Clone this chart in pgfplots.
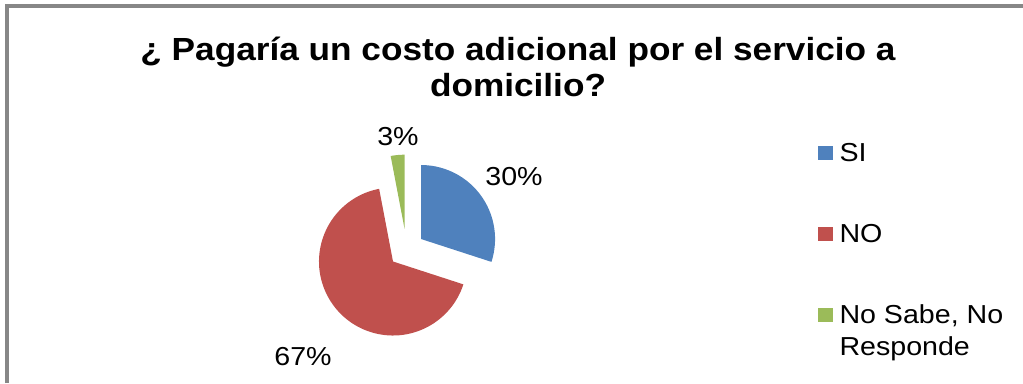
\documentclass[border=0pt]{standalone}
\usepackage{pgfplots}
\usepackage{pgfplotstable}
\pgfplotsset{compat=1.18}
\usepackage{fontspec}
\setmainfont{Liberation Sans}[FakeStretch=1.1]
\definecolor{sliceblue}{HTML}{4F81BD}
\definecolor{slicered}{HTML}{C0504D}
\definecolor{slicegreen}{HTML}{9BBB59}
\definecolor{framegray}{HTML}{878787}

% value = percent, explode = offset (px), lx ly = label position (px, image coords)
\pgfplotstableread{
name value explode color lx ly
SI 30 18 sliceblue 514 177
NO 67 18 slicered 303 357
NSNR 3 21 slicegreen 398 137
}\piedata

\pgfplotsset{
  legsquare/.style={legend image code/.code={\fill[##1, draw=none] (0pt,-7.15pt) rectangle (14.3pt,7.15pt);}},
  legsquareup/.style={legend image code/.code={\fill[##1, draw=none] (0pt,-7.15pt+16pt) rectangle (14.3pt,7.15pt+16pt);}}
}

\begin{document}
\begin{tikzpicture}
\begin{axis}[
  width=1023pt, height=383pt, scale only axis,
  xmin=0, xmax=1023, ymin=0, ymax=383,
  hide axis, clip=false,
  legend style={
    at={(axis cs:815,383-139)}, anchor=north west,
    draw=none, fill=none,
    font=\fontsize{26}{32}\selectfont,
    row sep=57pt,
    column sep=5pt,
    cells={anchor=west, align=left},
    legend cell align=left,
  },
]
\addlegendimage{legsquare, fill=sliceblue, draw=none}
\addlegendentry{SI}
\addlegendimage{legsquare, fill=slicered, draw=none}
\addlegendentry{NO}
\addlegendimage{legsquareup, fill=slicegreen, draw=none}
\addlegendentry{No Sabe, No\\Responde}

\def\ox{406.5}
\def\oy{133.4}
\def\rad{74}
\xdef\cumangle{90}
\pgfplotsinvokeforeach{0,1,2}{%
  \pgfplotstablegetelem{#1}{value}\of\piedata \edef\val{\pgfplotsretval}%
  \pgfplotstablegetelem{#1}{explode}\of\piedata \edef\ex{\pgfplotsretval}%
  \pgfplotstablegetelem{#1}{color}\of\piedata \edef\col{\pgfplotsretval}%
  \pgfplotstablegetelem{#1}{lx}\of\piedata \edef\lx{\pgfplotsretval}%
  \pgfplotstablegetelem{#1}{ly}\of\piedata \edef\ly{\pgfplotsretval}%
  \pgfmathsetmacro{\sa}{\cumangle}%
  \pgfmathsetmacro{\ea}{\cumangle-3.6*\val}%
  \pgfmathsetmacro{\ma}{(\sa+\ea)/2}%
  \pgfmathsetmacro{\cx}{\ox+\ex*cos(\ma)}%
  \pgfmathsetmacro{\cy}{\oy+\ex*sin(\ma)}%
  \pgfmathsetmacro{\lyy}{383-\ly}%
  \edef\next{\noexpand\fill[\col] (axis cs:\cx,\cy) -- ++(\sa:\rad pt) arc[start angle=\sa, end angle=\ea, radius=\rad pt] -- cycle;
    \noexpand\node[font=\noexpand\fontsize{26}{30}\noexpand\selectfont] at (axis cs:\lx,\lyy) {\val\noexpand\%};}%
  \next
  \xdef\cumangle{\ea}%
}

\node[align=center, font=\bfseries\fontsize{32}{36.5}\selectfont, anchor=base]
  at (axis cs:518,383-97) {¿ Pagaría un costo adicional por el servicio a\\domicilio?};

\draw[framegray, line width=3.5pt] (axis cs:7,0) -- (axis cs:7,383-6.2) -- (axis cs:1030,383-6.2);
\end{axis}
\pgfresetboundingbox
\path (0,0) rectangle (1023pt,383pt);
\end{tikzpicture}
\end{document}
